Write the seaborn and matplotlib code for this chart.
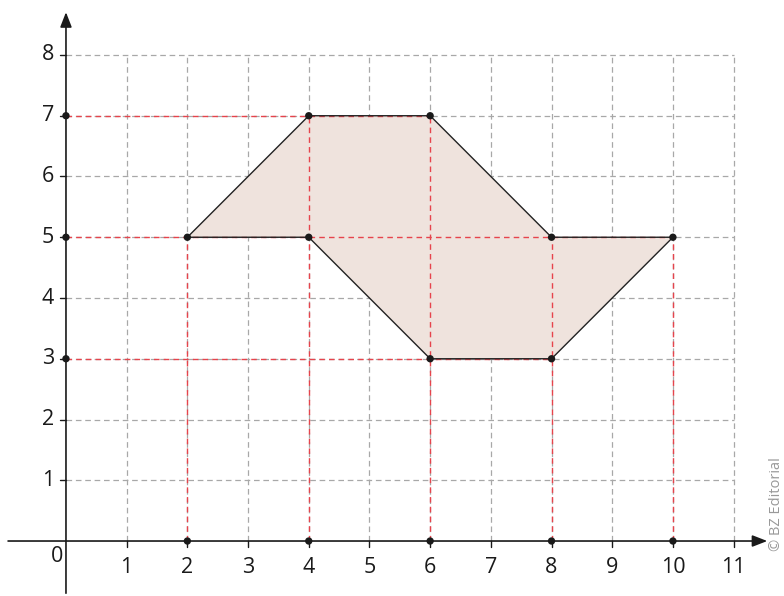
import numpy as np
import pandas as pd
import seaborn as sns
import matplotlib.pyplot as plt
from matplotlib.patches import Polygon

# polygon vertices (in order)
poly_x = [2, 4, 6, 8, 10, 8, 6, 4]
poly_y = [5, 7, 7, 5, 5, 3, 3, 5]

# projections onto the axes
proj_x = [2, 4, 6, 8, 10]
proj_x_top = [5, 7, 7, 5, 5]
proj_y = [7, 5, 3]
proj_y_right = [6, 10, 8]

x_ticks = list(range(1, 12))
y_ticks = list(range(1, 9))

sns.set_style("white")
plt.rcParams['font.family'] = ['Open Sans', 'DejaVu Sans']

fig = plt.figure(figsize=(7.84, 5.96), dpi=100)
ax = fig.add_axes([0, 0, 1, 1])
ax.set_xlim(-1.087, 11.83)
ax.set_ylim(-0.905, 8.905)
ax.axis('off')

grid_kw = dict(color='#a8a8a8', lw=0.9, ls=(0, (4.5, 3)), zorder=1)
for x in x_ticks:
    ax.plot([x, x], [0, 8], **grid_kw)
for y in y_ticks:
    ax.plot([0, 11], [y, y], **grid_kw)

# filled shape
ax.add_patch(Polygon(list(zip(poly_x, poly_y)), closed=True,
                     facecolor='#efe3dd', edgecolor='none', zorder=2))

red_kw = dict(color='#e6444c', lw=1.0, ls=(0, (4, 3)), zorder=3)
for x, top in zip(proj_x, proj_x_top):
    ax.plot([x, x], [0, top], **red_kw)
for y, right in zip(proj_y, proj_y_right):
    ax.plot([0, right], [y, y], **red_kw)

# outline
ax.plot(poly_x + poly_x[:1], poly_y + poly_y[:1], color='#222222', lw=1.0, zorder=4)

# axes with arrows
ax.annotate('', xy=(11.6, 0), xytext=(-1.0, 0),
            arrowprops=dict(arrowstyle='-|>,head_length=0.9,head_width=0.35',
                            color='#1a1a1a', lw=1.2), zorder=5)
ax.annotate('', xy=(0, 8.75), xytext=(0, -0.905),
            arrowprops=dict(arrowstyle='-|>,head_length=0.9,head_width=0.35',
                            color='#1a1a1a', lw=1.2), zorder=5)

# tick marks and labels
for x in x_ticks:
    ax.plot([x, x], [0, -0.1], color='#1a1a1a', lw=1.0, zorder=5)
    ax.text(x, -0.44, str(x), ha='center', va='center', fontsize=15.5, color='#1a1a1a')
for y in y_ticks:
    ax.plot([-0.1, 0], [y, y], color='#1a1a1a', lw=1.0, zorder=5)
    ax.text(-0.3, y, str(y), ha='center', va='center', fontsize=15.5, color='#1a1a1a')
ax.text(-0.15, -0.25, '0', ha='center', va='center', fontsize=15.5, color='#1a1a1a')

# points
pts = pd.DataFrame({
    'x': poly_x + proj_x + [0] * len(proj_y),
    'y': poly_y + [0] * len(proj_x) + proj_y,
})
sns.scatterplot(data=pts, x='x', y='y', ax=ax, color='#1a1a1a', s=28,
                edgecolor='none', zorder=6, legend=False)

fig.text(0.99, 0.075, '© BZ Editorial', rotation=90, ha='center', va='bottom',
         fontsize=10.5, color='#999999')

fig.savefig('out.png', dpi=100)
